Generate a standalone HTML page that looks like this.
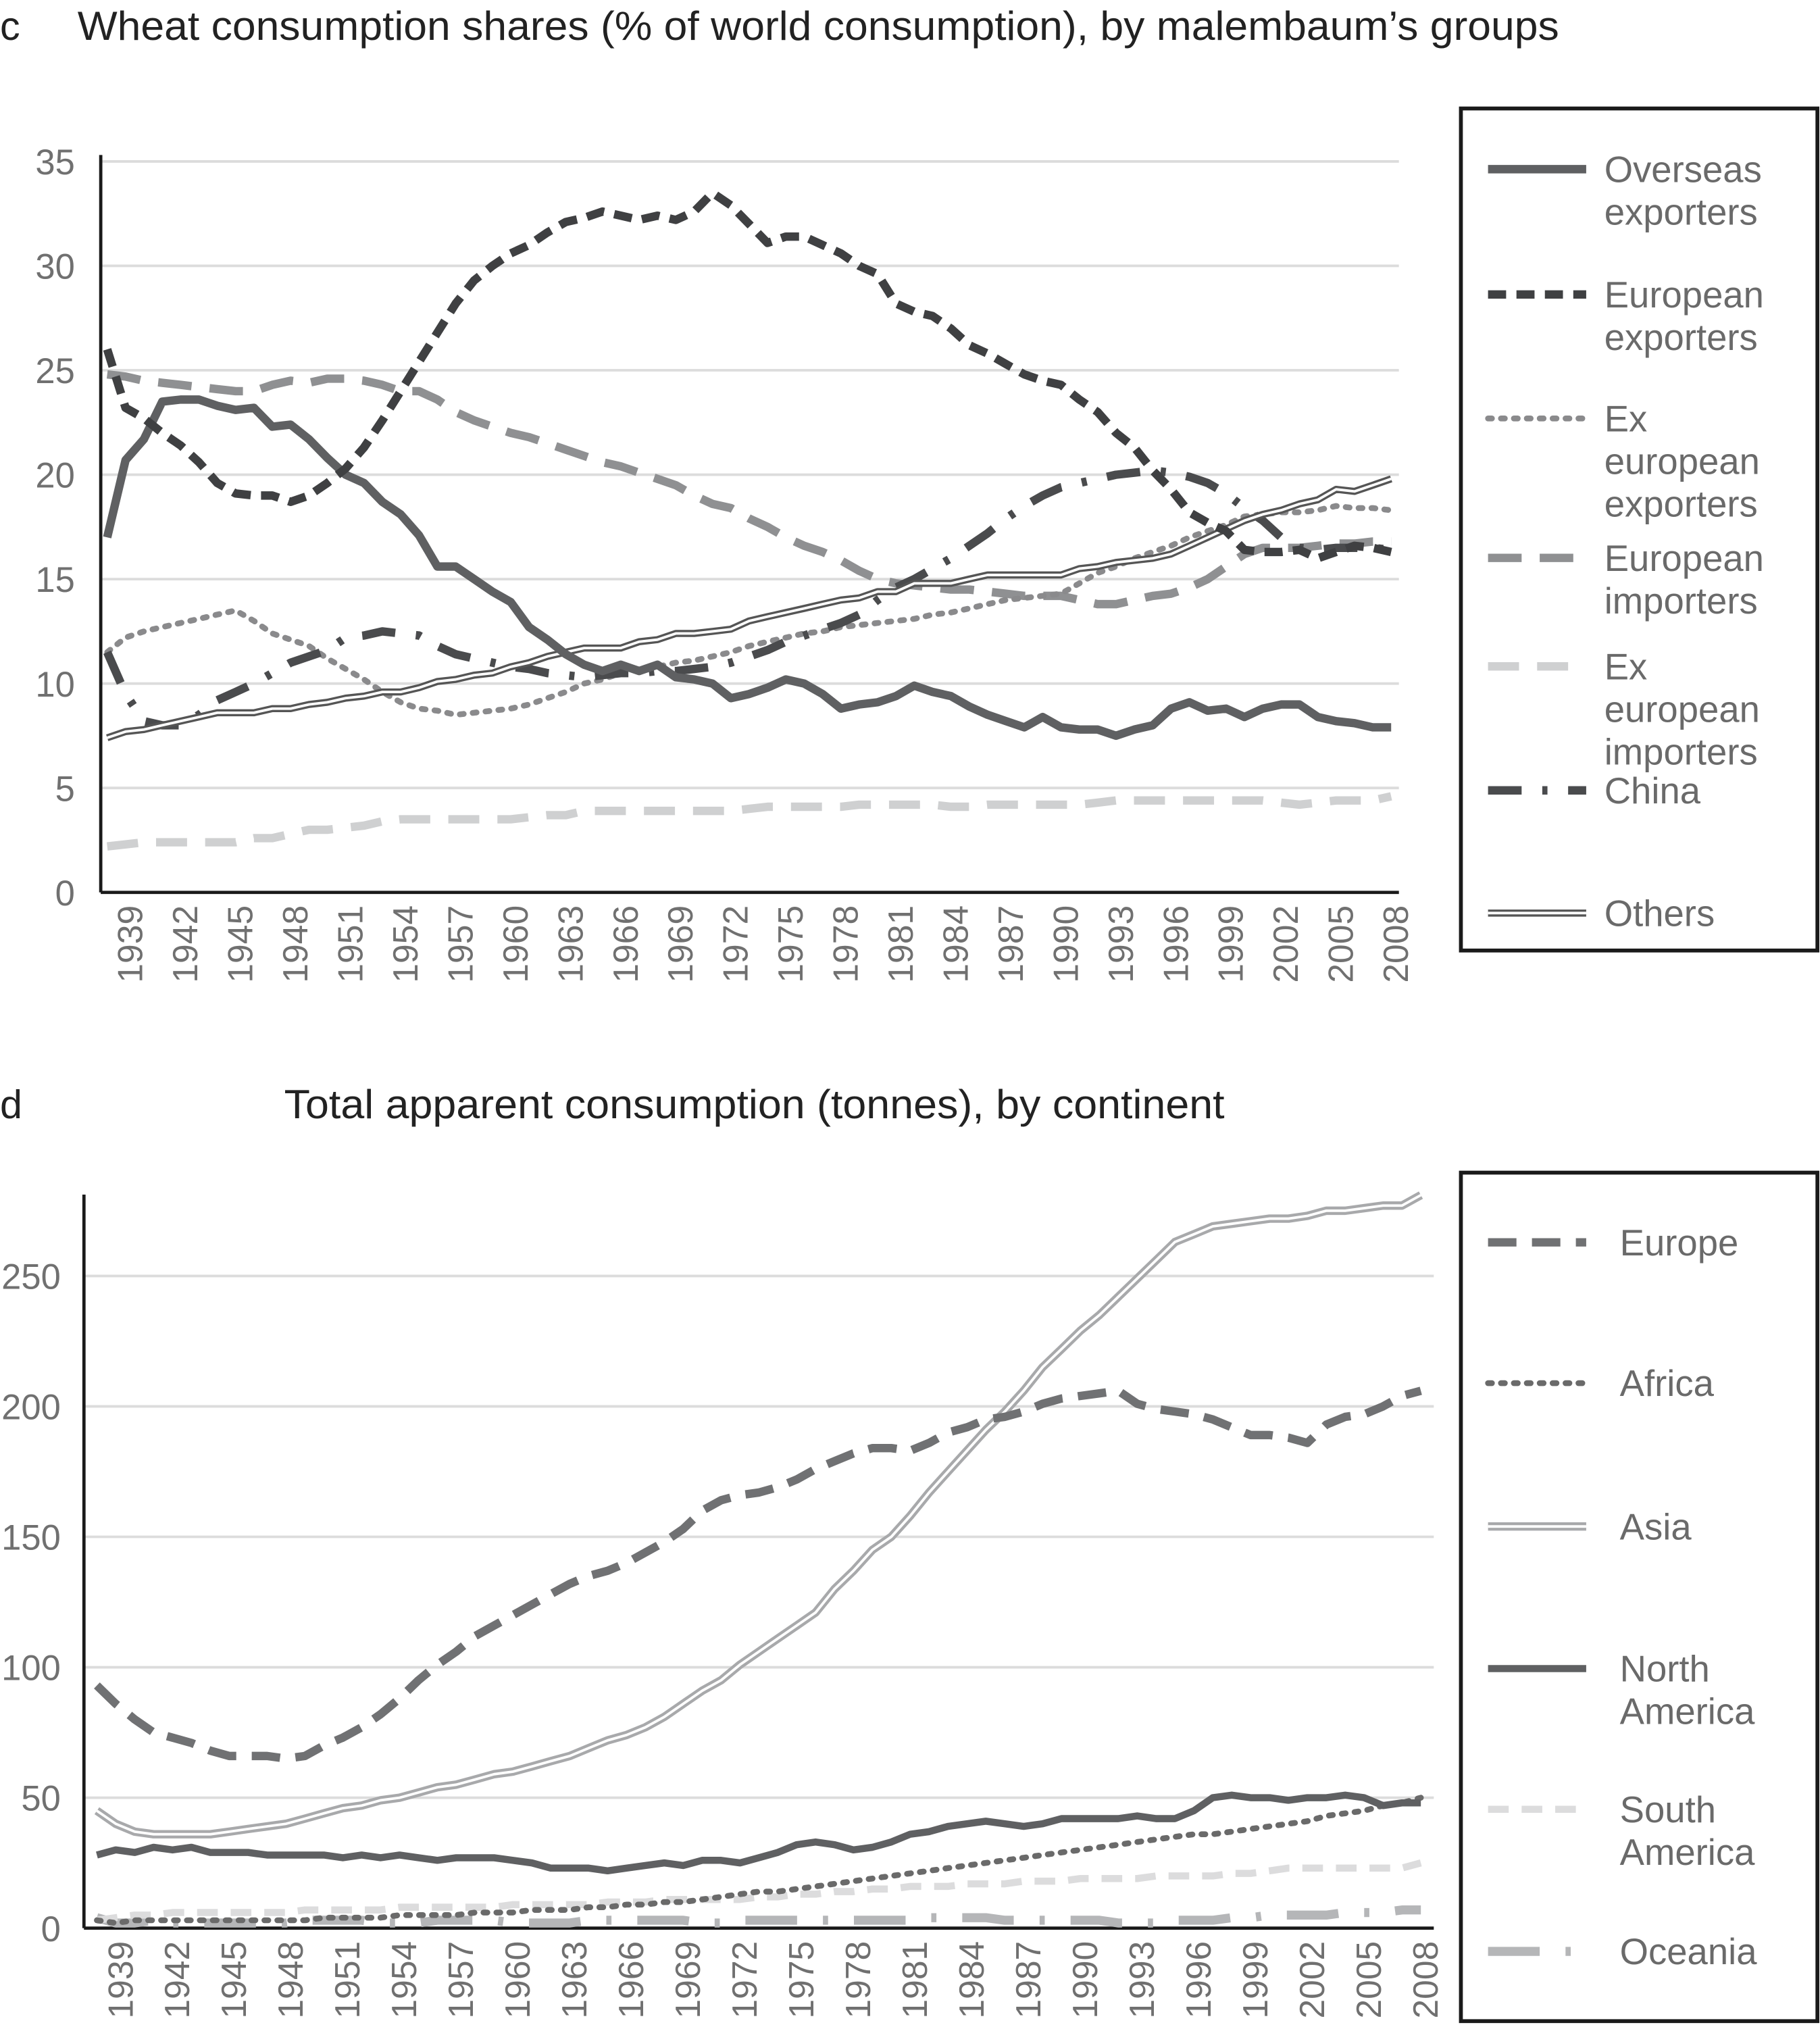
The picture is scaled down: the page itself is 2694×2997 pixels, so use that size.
<!DOCTYPE html>
<html><head><meta charset="utf-8"><style>
html,body{margin:0;padding:0;background:#fff}
svg{display:block}
text{font-family:"Liberation Sans",Arial,sans-serif}
</style></head><body>
<svg id="svg" width="2694" height="2997" viewBox="0 0 1409 1568" preserveAspectRatio="none" xmlns="http://www.w3.org/2000/svg">
<text x="0" y="31" font-size="31" fill="#222">c</text>
<text x="60" y="31" font-size="31.5" fill="#222" textLength="1147" lengthAdjust="spacingAndGlyphs">Wheat consumption shares (% of world consumption), by malembaum’s groups</text>
<text x="0" y="866" font-size="31" fill="#222">d</text>
<text x="220" y="866" font-size="31.5" fill="#222" textLength="728" lengthAdjust="spacingAndGlyphs">Total apparent consumption (tonnes), by continent</text>
<g id="c"></g>
<g id="d"></g>
<rect x="1131" y="84" width="276" height="652" fill="none" stroke="#1a1a1a" stroke-width="3"/>
<rect x="1131" y="908" width="276" height="657" fill="none" stroke="#1a1a1a" stroke-width="3"/>
<g id="legc"></g>
<g id="legd"></g>
</svg>
<script>
const yearStart = 1938;
const yearEnd = 2008;
const cTicks = [0,5,10,15,20,25,30,35];
const dTicks = [0,50,100,150,200,250];
const xTickYears = [1939,1942,1945,1948,1951,1954,1957,1960,1963,1966,1969,1972,1975,1978,1981,1984,1987,1990,1993,1996,1999,2002,2005,2008];

const overseasExporters = [17.0,20.7,21.7,23.5,23.6,23.6,23.3,23.1,23.2,22.3,22.4,21.7,20.8,20.0,19.6,18.7,18.1,17.1,15.6,15.6,15.0,14.4,13.9,12.7,12.1,11.4,10.9,10.6,10.9,10.6,10.9,10.3,10.2,10.0,9.3,9.5,9.8,10.2,10.0,9.5,8.8,9.0,9.1,9.4,9.9,9.6,9.4,8.9,8.5,8.2,7.9,8.4,7.9,7.8,7.8,7.5,7.8,8.0,8.8,9.1,8.7,8.8,8.4,8.8,9.0,9.0,8.4,8.2,8.1,7.9,7.9];
const europeanExporters = [26.0,23.2,22.7,22.0,21.4,20.6,19.6,19.1,19.0,19.0,18.7,19.0,19.6,20.3,21.3,22.6,24.0,25.4,26.8,28.2,29.3,30.0,30.6,31.0,31.6,32.1,32.3,32.6,32.4,32.2,32.4,32.2,32.6,33.5,32.9,32.0,31.1,31.4,31.4,31.0,30.6,30.0,29.6,28.2,27.8,27.6,27.0,26.2,25.8,25.3,24.8,24.5,24.3,23.6,23.0,22.0,21.3,20.2,19.3,18.2,17.7,17.3,16.4,16.3,16.3,16.4,16.0,16.3,16.6,16.5,16.3];
const exEuropeanExporters = [11.5,12.2,12.5,12.7,12.9,13.1,13.3,13.5,13.0,12.4,12.1,11.8,11.2,10.7,10.2,9.6,9.1,8.8,8.7,8.5,8.6,8.7,8.8,9.0,9.3,9.6,10.0,10.2,10.5,10.7,10.8,11.0,11.1,11.3,11.5,11.8,12.0,12.2,12.4,12.5,12.7,12.8,12.9,13.0,13.1,13.3,13.4,13.6,13.8,14.0,14.1,14.2,14.3,14.8,15.3,15.6,16.0,16.3,16.6,17.0,17.3,17.6,18.0,18.1,18.2,18.2,18.3,18.5,18.4,18.4,18.3];
const europeanImporters = [24.8,24.7,24.5,24.4,24.3,24.2,24.1,24.0,24.0,24.3,24.5,24.4,24.6,24.6,24.5,24.3,24.0,24.0,23.6,23.0,22.6,22.3,22.0,21.8,21.5,21.2,20.9,20.6,20.4,20.1,19.8,19.5,19.0,18.6,18.4,17.9,17.5,17.0,16.6,16.3,15.9,15.4,15.0,14.8,14.7,14.6,14.5,14.5,14.4,14.3,14.2,14.2,14.2,14.0,13.8,13.8,14.0,14.2,14.3,14.6,15.0,15.6,16.2,16.5,16.5,16.5,16.6,16.7,16.7,16.8,16.8];
const exEuropeanImporters = [2.2,2.3,2.4,2.4,2.4,2.4,2.4,2.4,2.6,2.6,2.8,3.0,3.0,3.1,3.2,3.4,3.5,3.5,3.5,3.5,3.5,3.5,3.5,3.6,3.7,3.7,3.9,3.9,3.9,3.9,3.9,3.9,3.9,3.9,3.9,4.0,4.1,4.1,4.1,4.1,4.1,4.2,4.2,4.2,4.2,4.2,4.1,4.1,4.2,4.2,4.2,4.2,4.2,4.2,4.3,4.4,4.4,4.4,4.4,4.4,4.4,4.4,4.4,4.4,4.3,4.2,4.3,4.4,4.4,4.4,4.6];
const china = [11.5,9.5,8.2,8.0,8.0,8.5,9.2,9.6,10.0,10.5,11.0,11.3,11.6,12.2,12.3,12.5,12.4,12.3,11.8,11.4,11.2,11.0,10.8,10.7,10.5,10.4,10.3,10.4,10.5,10.5,10.6,10.6,10.7,10.8,11.0,11.3,11.6,12.0,12.3,12.6,12.9,13.3,14.0,14.6,15.0,15.5,16.0,16.6,17.2,17.9,18.5,19.0,19.4,19.6,19.8,20.0,20.1,20.2,20.1,19.9,19.6,19.1,18.4,17.8,17.0,16.5,16.4,16.5,16.5,16.5,16.4];
const others = [7.4,7.7,7.8,8.0,8.2,8.4,8.6,8.6,8.6,8.8,8.8,9.0,9.1,9.3,9.4,9.6,9.6,9.8,10.1,10.2,10.4,10.5,10.8,11.0,11.3,11.5,11.7,11.7,11.7,12.0,12.1,12.4,12.4,12.5,12.6,13.0,13.2,13.4,13.6,13.8,14.0,14.1,14.4,14.4,14.8,14.8,14.8,15.0,15.2,15.2,15.2,15.2,15.2,15.5,15.6,15.8,15.9,16.0,16.2,16.6,17.0,17.4,17.8,18.1,18.3,18.6,18.8,19.3,19.2,19.5,19.8];

const europe = [93,86,80,75,73,71,68,66,66,66,65,66,70,73,77,82,88,95,101,106,112,116,120,124,128,132,135,137,140,144,148,153,160,164,166,167,169,172,176,179,182,184,184,183,186,190,192,195,196,198,201,203,204,205,206,201,199,198,197,195,192,189,189,188,186,193,196,197,200,204,206];
const africa = [3,2,3,3,3,3,3,3,3,3,3,3,4,4,4,4,5,5,5,5,6,6,6,7,7,7,8,8,9,9,10,10,11,12,13,14,14,15,16,17,18,19,20,21,22,23,24,25,26,27,28,29,30,31,32,33,34,35,36,36,37,38,39,40,41,43,44,45,47,48,50];
const asia = [45,40,37,36,36,36,36,37,38,39,40,42,44,46,47,49,50,52,54,55,57,59,60,62,64,66,69,72,74,77,81,86,91,95,101,106,111,116,121,130,137,145,150,158,167,175,183,191,198,206,215,222,229,235,242,249,256,263,266,269,270,271,272,272,273,275,275,276,277,277,281];
const northAmerica = [28,30,29,31,30,31,29,29,29,28,28,28,28,27,28,27,28,27,26,27,27,27,26,25,23,23,23,22,23,24,25,24,26,26,25,27,29,32,33,32,30,31,33,36,37,39,40,41,40,39,40,42,42,42,42,43,42,42,45,50,51,50,50,49,50,50,51,50,47,48,48];
const southAmerica = [3,4,5,5,6,6,6,6,6,6,6,7,7,7,7,7,8,8,8,8,8,8,9,9,9,9,9,10,10,10,11,11,11,11,11,12,12,13,13,14,14,15,15,16,16,16,17,17,17,18,18,18,19,19,19,19,20,20,20,20,21,21,22,23,23,23,23,23,23,23,25];
const oceania = [4,2,2,3,2,2,2,2,2,2,2,3,3,3,3,2,2,2,3,3,3,3,2,2,2,2,3,3,3,3,3,3,2,2,3,3,3,3,3,3,3,3,3,3,4,4,4,4,3,3,3,3,3,3,2,2,2,3,3,3,4,4,5,5,5,5,6,6,6,7,7];

const NS='http://www.w3.org/2000/svg';
function mk(parent, tag, attrs){const e=document.createElementNS(NS,tag);for(const k in attrs)e.setAttribute(k,attrs[k]);parent.appendChild(e);return e;}

function drawChart(g, cfg){
  const xScale = yr => cfg.x0 + (yr-yearStart)*(cfg.x1-cfg.x0)/(yearEnd-yearStart);
  const yScale = v => cfg.yBase - v*(cfg.yBase-cfg.yTop)/cfg.yMax;
  cfg.ticks.forEach(t=>{
    const gl = mk(g,'line',{x1:cfg.axisX,x2:cfg.gridR,y1:yScale(t),y2:yScale(t),stroke:'#dcdcdc','stroke-width':2});
    
    
    const tl = mk(g,'text',{x:cfg.yLabelX,y:yScale(t)+10,'text-anchor':'end','font-size':27.5,fill:'#707070'});
    tl.textContent = t;
    
    
  });
  const ax = mk(g,'line',{x1:cfg.axisX,x2:cfg.axisX,y1:cfg.axisTop,y2:cfg.yBase,stroke:'#1a1a1a','stroke-width':2.5});
  
  
  const bx = mk(g,'line',{x1:cfg.axisX,x2:cfg.gridR,y1:cfg.yBase,y2:cfg.yBase,stroke:'#1a1a1a','stroke-width':2.5});
  
  
  xTickYears.forEach(yr=>{
    const x = xScale(yr)+4;
    const t = mk(g,'text',{x:0,y:0,transform:`translate(${x+9},${cfg.yBase+10}) rotate(-90)`,'text-anchor':'end','font-size':27,fill:'#707070'});
    t.textContent = yr;
    
    
  });
  cfg.series.forEach(s=>{
    const d = s.data.map((v,i)=>(i?'L':'M')+xScale(yearStart+i).toFixed(1)+','+yScale(v).toFixed(1)).join('');
    drawStyled(g, d, s.style, s.name);
  });
}
function drawStyled(g, d, st, name){
  let p;
  if(st.double){
    p = mk(g,'path',{d:d,fill:'none',stroke:st.color,'stroke-width':st.w||6,'stroke-linejoin':'round'});
    const inner = mk(g,'path',{d:d,fill:'none',stroke:'#fff','stroke-width':2,'stroke-linejoin':'round'});
    
    
  } else {
    p = mk(g,'path',{d:d,fill:'none',stroke:st.color,'stroke-width':st.w,'stroke-linejoin':'round','stroke-linecap':st.cap||'butt'});
    if(st.dash) p.setAttribute('stroke-dasharray',st.dash);
  }
  
  
}
const ST = {
  solid:{color:'#5f6062',w:6.5},
  dash:{color:'#3f4042',w:6.5,dash:'14 8'},
  dot:{color:'#8a8a8c',w:4.5,dash:'3 7',cap:'round'},
  longdash:{color:'#8f9092',w:6.5,dash:'26 14'},
  lightdash:{color:'#cfd0d1',w:6.5,dash:'24 14'},
  dashdot:{color:'#4a4b4d',w:6.5,dash:'26 16 4 16'},
  dbl:{color:'#555',double:true,w:5.5},
  eu:{color:'#707173',w:6.5,dash:'22 12'},
  af:{color:'#6a6a6a',w:4.5,dash:'3 7',cap:'round'},
  as:{color:'#a8a9ab',double:true,w:6.5},
  na:{color:'#5f6062',w:5.5},
  sa:{color:'#dcdcdd',w:5.5,dash:'16 10'},
  oc:{color:'#b5b6b8',w:7,dash:'40 20 4 20'}
};
drawChart(document.getElementById('c'),{
  x0:83,x1:1077,yBase:691,yTop:125,yMax:35,axisX:78,axisTop:120,gridR:1083,yLabelX:58,ticks:cTicks,
  series:[
    {name:'line-european-importers',data:europeanImporters,style:ST.longdash},
    {name:'line-ex-european-importers',data:exEuropeanImporters,style:ST.lightdash},
    {name:'line-ex-european-exporters',data:exEuropeanExporters,style:ST.dot},
    {name:'line-china',data:china,style:ST.dashdot},
    {name:'line-others',data:others,style:ST.dbl},
    {name:'line-overseas-exporters',data:overseasExporters,style:ST.solid},
    {name:'line-european-exporters',data:europeanExporters,style:ST.dash}
  ]});
drawChart(document.getElementById('d'),{
  x0:75,x1:1100,yBase:1493,yTop:988,yMax:250,axisX:65,axisTop:925,gridR:1110,yLabelX:47,ticks:dTicks,
  series:[
    {name:'line-oceania',data:oceania,style:ST.oc},
    {name:'line-south-america',data:southAmerica,style:ST.sa},
    {name:'line-africa',data:africa,style:ST.af},
    {name:'line-north-america',data:northAmerica,style:ST.na},
    {name:'line-asia',data:asia,style:ST.as},
    {name:'line-europe',data:europe,style:ST.eu}
  ]});

function legend(g, items){
  items.forEach(it=>{
    const d = `M1152,${it.y}L1228,${it.y}`;
    drawStyled(g,d,it.style,'legend-swatch-'+it.key);
    it.lines.forEach((ln,i)=>{
      const t = mk(g,'text',{x:it.tx,y:it.y+10+i*33,'font-size':28.5,fill:'#6a6a6a'});
      t.textContent = ln;
      
      
    });
  });
}
legend(document.getElementById('legc'),[
  {key:'overseas-exporters',y:131,style:ST.solid,lines:['Overseas','exporters'],tx:1242},
  {key:'european-exporters',y:228,style:ST.dash,lines:['European','exporters'],tx:1242},
  {key:'ex-european-exporters',y:324,style:ST.dot,lines:['Ex','european','exporters'],tx:1242},
  {key:'european-importers',y:432,style:ST.longdash,lines:['European','importers'],tx:1242},
  {key:'ex-european-importers',y:516,style:ST.lightdash,lines:['Ex','european','importers'],tx:1242},
  {key:'china',y:612,style:ST.dashdot,lines:['China'],tx:1242},
  {key:'others',y:707,style:ST.dbl,lines:['Others'],tx:1242}
]);
legend(document.getElementById('legd'),[
  {key:'europe',y:962,style:ST.eu,lines:['Europe'],tx:1254},
  {key:'africa',y:1071,style:ST.af,lines:['Africa'],tx:1254},
  {key:'asia',y:1182,style:ST.as,lines:['Asia'],tx:1254},
  {key:'north-america',y:1292,style:ST.na,lines:['North','America'],tx:1254},
  {key:'south-america',y:1401,style:ST.sa,lines:['South','America'],tx:1254},
  {key:'oceania',y:1511,style:ST.oc,lines:['Oceania'],tx:1254}
]);
</script>
</body></html>
